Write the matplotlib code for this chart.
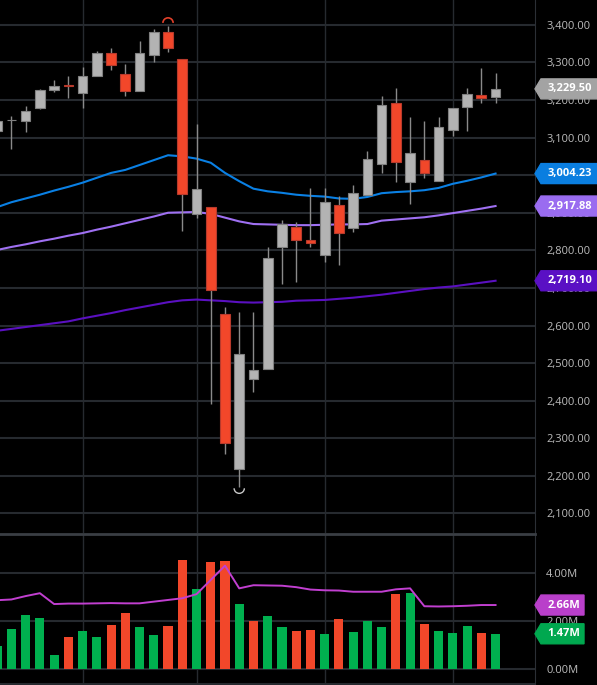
import numpy as np
import matplotlib.pyplot as plt
from matplotlib.patches import Arc, Polygon

plt.rcParams['font.family'] = ['Open Sans', 'DejaVu Sans']

# candles, index -1 is the one cut off at the left edge
idx = np.arange(-1, 35)
opens = [3117, 3145.5, 3145, 3178, 3226, 3237.5, 3219, 3264, 3326, 3270, 3223, 3321,
         3382, 3309, 2898, 2915, 2630, 2218, 2457, 2484, 2810, 2861, 2828, 2788,
         2920, 2859, 2947, 3029, 3193, 2982, 3040, 2984, 3120, 3182, 3214, 3209]
highs = [3152, 3157, 3184, 3230, 3253, 3264, 3288, 3329, 3337, 3297, 3357, 3388,
         3397, 3309, 3136, 2915, 2650, 2635, 2635, 2808, 2882, 2875, 2965, 2965,
         2944, 2975, 3064, 3210, 3231, 3155, 3145, 3155, 3178, 3232, 3284, 3273]
lows = [3105, 3069, 3115, 3176, 3222, 3206, 3179, 3264, 3281, 3211, 3223, 3302,
        3328, 2852, 2887, 2391, 2257, 2171, 2423, 2484, 2710, 2716, 2810, 2770,
        2761, 2850, 2947, 3006, 2981, 2923, 2992, 2984, 3104, 3117, 3191, 3191]
closes = [3144, 3146, 3172, 3226, 3237, 3236.5, 3265, 3326, 3293, 3224, 3326, 3381,
          3337, 2950, 2963, 2694, 2287, 2523, 2481, 2779, 2869, 2827, 2820, 2928,
          2845, 2952, 3042, 3186, 3034, 3060, 3005, 3129, 3178, 3215, 3204, 3229.5]

# volume in millions
volume = [0.95, 1.66, 2.25, 2.12, 0.58, 1.35, 1.57, 1.35, 1.82, 2.33, 1.75, 1.42,
          1.81, 4.53, 3.31, 4.43, 4.48, 2.70, 2.01, 2.19, 1.75, 1.57, 1.64, 1.45,
          2.07, 1.56, 2.01, 1.75, 3.12, 3.15, 1.89, 1.58, 1.50, 1.79, 1.52, 1.47]
vol_ma = [2.86, 2.89, 3.03, 3.15, 2.70, 2.72, 2.72, 2.73, 2.74, 2.73, 2.73, 2.80,
          2.87, 2.94, 3.11, 3.70, 4.29, 3.35, 3.48, 3.47, 3.46, 3.40, 3.30, 3.27,
          3.26, 3.21, 3.21, 3.21, 3.31, 3.35, 2.61, 2.60, 2.61, 2.63, 2.66, 2.66]

ma_blue = [2915, 2928, 2938, 2948, 2959, 2969, 2980, 2993, 3006, 3014, 3027, 3040,
           3053, 3050, 3044, 3033, 3006, 2984, 2964, 2957, 2953, 2948, 2945, 2943,
           2938, 2937, 2942, 2952, 2955, 2957, 2960, 2966, 2977, 2985, 2994, 3004.23]
ma_lavender = [2801, 2809, 2816, 2824, 2831, 2839, 2846, 2855, 2863, 2872, 2881, 2890,
               2900, 2901, 2902, 2897, 2887, 2877, 2870, 2869, 2868, 2867, 2867, 2868,
               2869, 2869, 2870, 2879, 2882, 2885, 2888, 2893, 2899, 2905, 2911, 2917.88]
ma_purple = [2586, 2591, 2596, 2601, 2606, 2611, 2619, 2626, 2633, 2641, 2648, 2655,
             2662, 2667, 2669, 2667, 2665, 2662, 2661, 2662, 2663, 2666, 2667, 2668,
             2671, 2674, 2678, 2682, 2687, 2692, 2697, 2701, 2704, 2709, 2714, 2719.10]

month_starts = [5, 13, 22, 31]
price_ticks = list(range(2100, 3500, 100))
vol_ticks = [0, 2, 4]

W, H = 597, 685
BG = 'black'
GRID = '#262a2f'
TICKC = '#bcbcbc'
UP_BODY, UP_EDGE = '#b3b3b3', '#808080'
DN_BODY, DN_EDGE = '#f2472a', '#b83a2c'
GREEN, RED = '#00b04f', '#f2472a'

fig = plt.figure(figsize=(W / 100, H / 100), dpi=100, facecolor=BG)
ax = fig.add_axes([0, (H - 533) / H, 535 / W, 533 / H], facecolor=BG)
axv = fig.add_axes([0, 0, 535 / W, (H - 534) / H], facecolor=BG)

o = np.array(opens); c = np.array(closes)
up = c >= o

# --- price panel ---
for a in (ax, axv):
    a.set_xlim(-0.80, 36.77)
    a.set_xticks(month_starts)
    a.tick_params(axis='x', length=0, labelbottom=False)
    a.grid(axis='x', color=GRID, lw=1.0)
    a.yaxis.tick_right()
    a.tick_params(axis='y', length=0, pad=8, labelsize=8, labelcolor=TICKC)
    for s in ('left', 'top', 'bottom'):
        a.spines[s].set_visible(False)
    a.spines['right'].set_color('#2b2f35')
    a.set_axisbelow(True)

ax.set_ylim(2048, 3466)
ax.set_yticks(price_ticks)
ax.set_yticklabels([f'{t:,.2f}' for t in price_ticks])
ax.grid(axis='y', color=GRID, lw=1.5)

ax.plot(idx, ma_purple, color='#5a10c0', lw=1.5, zorder=2)
ax.plot(idx, ma_lavender, color='#9f70f2', lw=1.5, zorder=2)
ax.plot(idx, ma_blue, color='#0a80e4', lw=1.5, zorder=2)

ax.vlines(idx, lows, highs, color='#8a8a8a', lw=1.0, zorder=3)
body_lo = np.minimum(o, c)
body_h = np.maximum(np.abs(c - o), 2.5)
ax.bar(idx[up], body_h[up], 0.68, bottom=body_lo[up], color=UP_BODY,
       edgecolor=UP_EDGE, lw=0.8, zorder=4)
ax.bar(idx[~up], body_h[~up], 0.68, bottom=body_lo[~up], color=DN_BODY,
       edgecolor=DN_EDGE, lw=0.8, zorder=4)

# max / min markers
hi_i = int(np.argmax(highs)); lo_i = int(np.argmin(lows))
ax.add_patch(Arc((idx[hi_i], highs[hi_i] + 8), 0.72, 27, theta1=0, theta2=180,
                 color='#e0402a', lw=1.2, zorder=5))
ax.add_patch(Arc((idx[lo_i], lows[lo_i] - 4), 0.72, 27, theta1=180, theta2=360,
                 color='#c8c8c8', lw=1.0, zorder=5))

# --- volume panel ---
axv.set_ylim(-0.65, 5.60)
axv.set_yticks(vol_ticks)
axv.set_yticklabels([f'{t:.2f}M' for t in vol_ticks])
axv.grid(axis='y', color=GRID, lw=1.5)
axv.spines['top'].set_visible(True)
axv.spines['top'].set_color('#3a3e44')
axv.spines['top'].set_linewidth(2)
axv.axhline(-0.59, color=GRID, lw=1.5)

prev = np.concatenate([[c[0] - 1], c[:-1]])
vcol = [GREEN if cc >= pp else RED for cc, pp in zip(c, prev)]
axv.bar(idx, volume, 0.64, color=vcol, zorder=3)
axv.plot(idx, vol_ma, color='#c13fd0', lw=1.4, zorder=4)


def tag(a, value, text, color, right=597, textcolor='white'):
    ypx = a.transData.transform((0, value))[1]
    x0, x1, hh = 535, 541, 10
    pts = [(x0, ypx), (x1, ypx + hh), (right, ypx + hh), (right, ypx - hh), (x1, ypx - hh)]
    pts = [(px / W, py / H) for px, py in pts]
    fig.add_artist(Polygon(pts, closed=True, color=color, transform=fig.transFigure,
                           zorder=5))
    fig.text((x1 + right) / 2 / W + 1 / W, ypx / H, text, color=textcolor, fontsize=8,
             fontweight='bold', ha='center', va='center', zorder=6)


tag(ax, closes[-1], f'{closes[-1]:,.2f}', '#a3a3a3')
tag(ax, ma_blue[-1], f'{ma_blue[-1]:,.2f}', '#0a7ee0')
tag(ax, ma_lavender[-1], f'{ma_lavender[-1]:,.2f}', '#9a6cf0')
tag(ax, ma_purple[-1], f'{ma_purple[-1]:,.2f}', '#5a10c4')
tag(axv, vol_ma[-1], f'{vol_ma[-1]:.2f}M', '#b93fca', right=584)
tag(axv, volume[-1], f'{volume[-1]:.2f}M', '#00a84f', right=584)

fig.savefig('out.png', dpi=100, facecolor=BG)
